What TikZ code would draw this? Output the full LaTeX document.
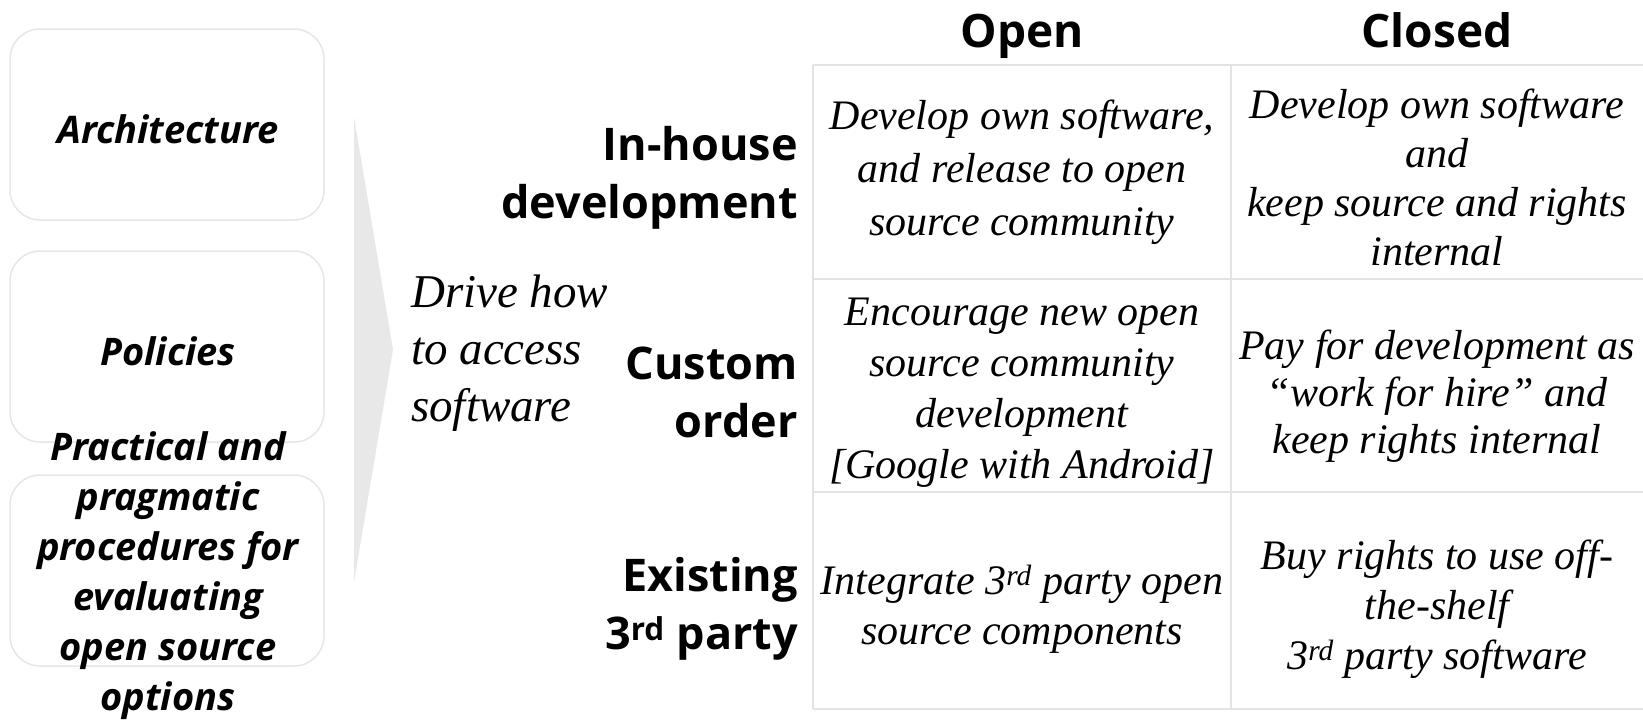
\documentclass[tikz,border=0pt]{standalone}
\usepackage{fontspec}
\setmainfont{Liberation Serif}
\newfontfamily\labelsans{Open Sans}
\definecolor{gridgray}{HTML}{E3E3E3}
\definecolor{boxline}{HTML}{E6E6E6}
\definecolor{arrowgray}{HTML}{E8E8E8}
\begin{document}
\begin{tikzpicture}[x=1pt,y=-1pt,
  sidebox/.style={draw=boxline, line width=1.5pt, fill=white, rounded corners=30pt,
    minimum width=314pt, minimum height=191pt, inner sep=0pt},
  sidetext/.style={font=\labelsans\bfseries\itshape\fontsize{38}{50}\selectfont,
    align=center, inner sep=0pt},
  header/.style={font=\labelsans\bfseries\fontsize{46}{56}\selectfont,
    inner sep=0pt, anchor=base},
  rowlabel/.style={font=\labelsans\bfseries\fontsize{45}{58}\selectfont,
    align=right, inner sep=0pt, anchor=east},
  cell/.style={font=\itshape\fontsize{42}{50}\selectfont, align=center, inner sep=0pt},
  gridline/.style={draw=gridgray, line width=2pt}]
\useasboundingbox (0,0) rectangle (1643,724);

% left column of rounded boxes
\node[sidebox] (boxA) at (167,124.5) {};
\node[sidebox] (boxB) at (167,346.5) {};
\node[sidebox] (boxC) at (167,570.5) {};
\node[sidetext] (archT) at (168,129) {Architecture};
\node[sidetext] (polT) at (168,351) {Policies};
\node[sidetext] (procT) at (168,576) {Practical and\\pragmatic\\procedures for\\evaluating\\open source\\options};

% chevron
\fill[arrowgray] (354,117) -- (393,349.5) -- (354,582) -- cycle;

\node[font=\itshape\fontsize{47}{57}\selectfont, align=left, inner sep=0pt, anchor=west]
  (drive) at (411,353) {Drive how\\to access\\software};

% grid
\coordinate (g00) at (813,65);
\coordinate (g10) at (1231,65);
\coordinate (g20) at (1643,65);
\coordinate (g01) at (813,279);
\coordinate (g21) at (1643,279);
\coordinate (g02) at (813,492);
\coordinate (g22) at (1643,492);
\coordinate (g03) at (813,709);
\coordinate (g13) at (1231,709);
\coordinate (g23) at (1643,709);
\draw[gridline] (g00) -- (g20);
\draw[gridline] (g01) -- (g21);
\draw[gridline] (g02) -- (g22);
\draw[gridline] (g03) -- (g23);
\draw[gridline] (g00) -- (g03);
\draw[gridline] (g10) -- (g13);

% column headers
\node[header] (open) at (1022,47) {Open};
\node[header] (closed) at (1437,47) {Closed};

% row labels
\node[rowlabel] (inhouse) at (798,178) {In-house\\development};
\node[rowlabel] (custom) at (798,392) {Custom\\order};
\node[rowlabel] (existing) at (798,609) {Existing\\3\textsuperscript{rd} party};

% cells
\node[cell, font=\itshape\fontsize{42}{53}\selectfont] (c11) at (1022,172)
  {Develop own software,\\and release to open\\source community};
\node[cell, font=\itshape\fontsize{42}{49}\selectfont] (c12) at (1437,177)
  {Develop own software\\and\\keep source and rights\\internal};
\node[cell, font=\itshape\fontsize{42}{51}\selectfont] (c21) at (1022,393)
  {Encourage new open\\source community\\development\\{[Google with Android]}};
\node[cell, font=\itshape\fontsize{42}{47}\selectfont] (c22) at (1437,396)
  {Pay for development as\\“work for hire” and\\keep rights internal};
\node[cell] (c31) at (1022,609)
  {Integrate 3\textsuperscript{rd} party open\\source components};
\node[cell] (c32) at (1437,609)
  {Buy rights to use off-\\the-shelf\\3\textsuperscript{rd} party software};
\end{tikzpicture}
\end{document}
